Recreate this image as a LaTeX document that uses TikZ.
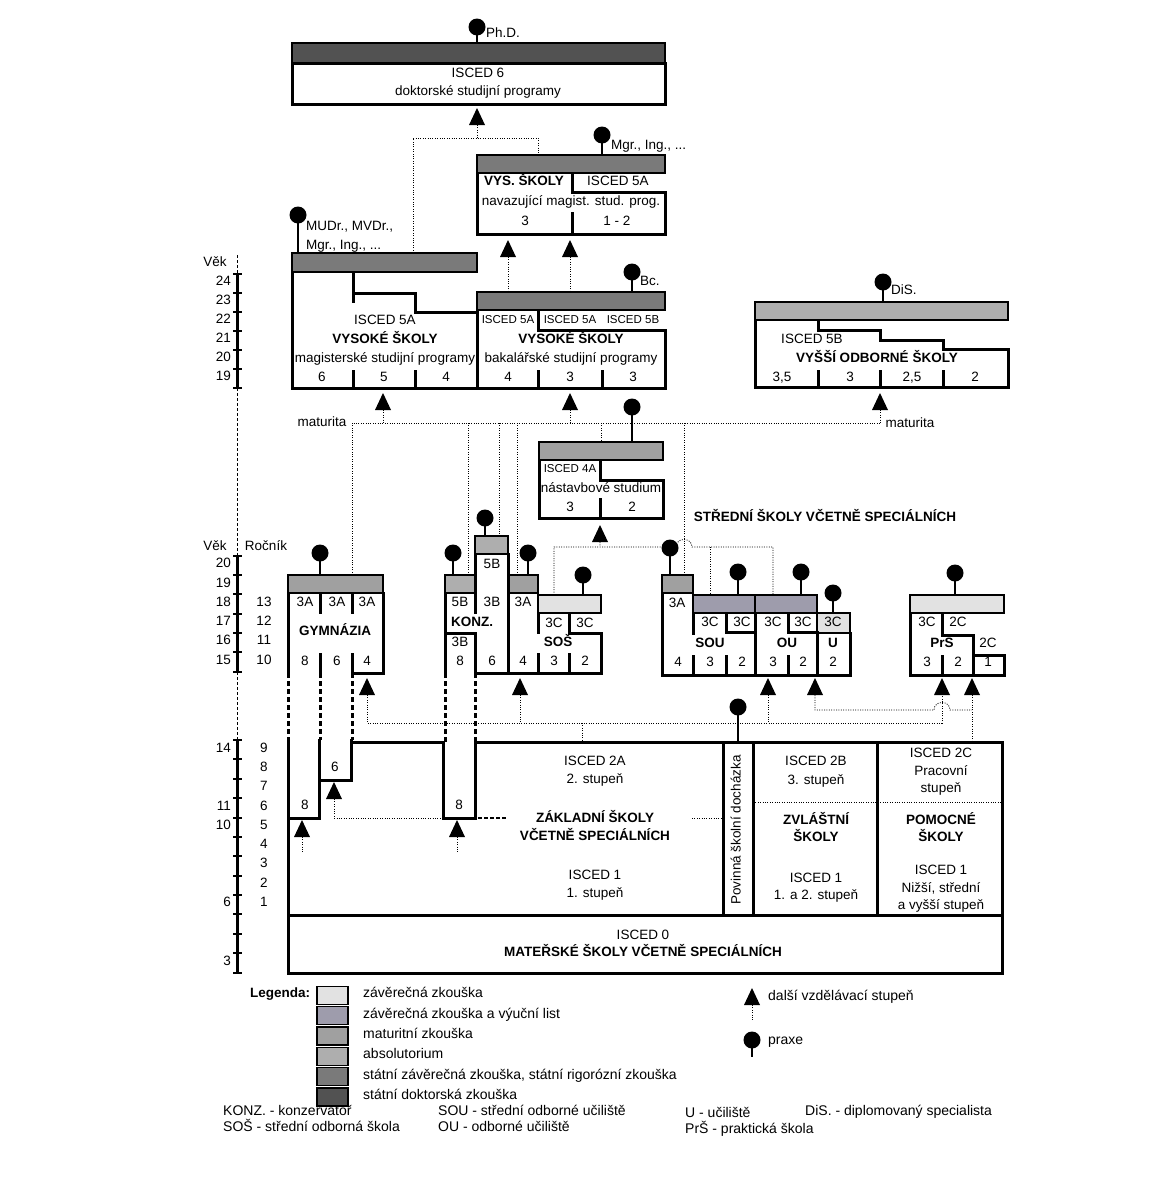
\documentclass[tikz,border=0pt]{standalone}
\usepackage{fontspec}
\setmainfont{Liberation Sans}
\definecolor{zaver}{RGB}{226,226,226}
\definecolor{vyucni}{RGB}{158,156,172}
\definecolor{matur}{RGB}{160,160,160}
\definecolor{absol}{RGB}{174,174,174}
\definecolor{statni}{RGB}{122,122,122}
\definecolor{doktor}{RGB}{82,82,82}
\tikzset{
  box/.style={line width=3pt, line cap=rect},
  bar/.style={draw, line width=2.6pt},
  flow/.style={line width=0.8pt, dash pattern=on 1pt off 1.4pt},
  cont/.style={line width=3pt, dash pattern=on 5pt off 3pt},
  lbl/.style={inner sep=0pt, text height=0.75em, text depth=0.22em, font=\fontsize{13.5}{15}\selectfont},
  sm/.style={lbl, font=\fontsize{11.5}{13}\selectfont},
  hd/.style={lbl, font=\fontsize{13.5}{15}\selectfont\bfseries},
  leg/.style={lbl, anchor=west, font=\fontsize{14}{16}\selectfont},
}
\newcommand\pin[3]{\fill (#1,#2) circle (8.5); \draw[line width=1.3pt] (#1,#2) -- (#1,#3);}
\newcommand\up[2]{\fill (#1,#2) -- ++(-8,17) -- ++(16,0) -- cycle;}
\begin{document}
\begin{tikzpicture}[x=1pt,y=-1pt]
  \useasboundingbox (0,0) rectangle (1174,1197);
  \fill[white] (0,0) rectangle (1174,1197);

  % ISCED 6
  \draw[bar, fill=doktor] (292,43) rectangle (665,63);
  \draw[box] (292,63) rectangle (665,104);
  \node[lbl] (phdisced) at (478,75) {ISCED 6};
  \node[lbl] (phdprog) at (478,93) {doktorské studijní programy};
  \pin{477}{27}{43}
  \node[lbl, anchor=west] (phd) at (486,35) {Ph.D.};
  \up{477}{108}
  \draw[flow] (477,125) -- (477,138) (413,253) -- (413,138) -- (538,138) -- (538,155);

  % navazujici magisterske
  \draw[bar, fill=statni] (477,155) rectangle (665,173);
  \draw[box] (477,173) -- (477,234) -- (665,234) -- (665,192) -- (572,192) -- (572,173);
  \draw[box] (572,213) -- (572,234);
  \node[hd] (navvs) at (524,183) {VYS. ŠKOLY};
  \node[lbl] (navisced) at (618,183) {ISCED 5A};
  \node[lbl] (navprog) at (571,203) {navazující magist. stud. prog.};
  \node[lbl] (nav3) at (525,223) {3};
  \node[lbl] (nav12) at (617,223) {1 - 2};
  \pin{602}{135}{155}
  \node[lbl, anchor=west] (mgr) at (611,147) {Mgr., Ing., ...};
  \up{508}{240} \up{570}{240}
  \draw[flow] (508,257) -- (508,292) (570,257) -- (570,292);

  % magisterske
  \draw[bar, fill=statni] (292,253) rectangle (477,272);
  \draw[box] (292,272) -- (292,388) -- (665,388);
  \draw[box] (353,272) -- (353,293) -- (415,293) -- (415,312) -- (477,312);
  \draw[box] (353,293) -- (353,301);
  \draw[box] (353,371) -- (353,388) (415,371) -- (415,388);
  \node[lbl] (magisced) at (385,322) {ISCED 5A};
  \node[hd] (magvs) at (385,341) {VYSOKÉ ŠKOLY};
  \node[lbl] (magprog) at (385,360) {magisterské studijní programy};
  \foreach \x/\n in {322/6,384/5,446/4} \node[lbl] at (\x,379) {\n};
  \pin{298}{215}{253}
  \node[lbl, anchor=west] (mudr) at (306,228) {MUDr., MVDr.,};
  \node[lbl, anchor=west] (mudr2) at (306,247) {Mgr., Ing., ...};

  % bakalarske
  \draw[bar, fill=statni] (477,292) rectangle (665,310);
  \draw[box] (477,310) -- (477,388) (538,310) -- (538,330) -- (665,330) -- (665,388);
  \draw[box] (538,371) -- (538,388) (602,371) -- (602,388);
  \foreach \x/\n in {508/5A,570/5A,633/5B} \node[sm] at (\x,321) {ISCED \n};
  \node[hd] (bcvs) at (571,341) {VYSOKÉ ŠKOLY};
  \node[lbl] (bcprog) at (571,360) {bakalářské studijní programy};
  \foreach \x/\n in {508/4,570/3,633/3} \node[lbl] at (\x,379) {\n};
  \pin{632}{272}{292}
  \node[lbl, anchor=west] (bc) at (640,283) {Bc.};

  % VOS
  \draw[bar, fill=absol] (755,302) rectangle (1008,320);
  \draw[box] (755,320) -- (755,387) -- (1008,387) -- (1008,349) -- (943,349) -- (943,340)
    -- (880,340) -- (880,330) -- (818,330) -- (818,320);
  \draw[box] (818,371) -- (818,387) (880,371) -- (880,387) (943,371) -- (943,387);
  \node[lbl] (vosisced) at (812,341) {ISCED 5B};
  \node[hd] (vos) at (877,360) {VYŠŠÍ ODBORNÉ ŠKOLY};
  \foreach \x/\n in {782/{3,5},850/3,912/{2,5},975/2} \node[lbl] at (\x,379) {\n};
  \pin{883}{282}{302}
  \node[lbl, anchor=west] (dis) at (891,292) {DiS.};

  % maturita
  \up{383}{393} \up{570}{393} \up{880}{393}
  \draw[flow] (383,410) -- (383,423) (570,410) -- (570,423) (880,410) -- (880,423);
  \draw[flow] (352,575) -- (352,423) -- (880,423);
  \draw[flow] (468,423) -- (468,575) (499,423) -- (499,536) (517,423) -- (517,575)
    (601,423) -- (601,442) (684,423) -- (684,575);
  \node[lbl] (mat1) at (322,424) {maturita};
  \node[lbl] (mat2) at (910,425) {maturita};

  % nastavba
  \draw[bar, fill=matur] (539,442) rectangle (663,460);
  \draw[box] (539,460) -- (539,518) -- (663,518) -- (663,480) -- (600,480) -- (600,460);
  \draw[box] (600,499) -- (600,518);
  \node[sm] (nasisced) at (570,470) {ISCED 4A};
  \node[lbl] (nas) at (601,490) {nástavbové studium};
  \node[lbl] at (570,509) {3};
  \node[lbl] at (632,509) {2};
  \pin{632}{407}{442}
  \up{600}{525}
  \draw[flow] (600,542) -- (600,547) (554,595) -- (554,547) -- (676,547)
    .. controls (676,537) and (692,537) .. (692,547) -- (773,547) -- (773,595);
  \draw[flow] (710,547) -- (710,595);
  \node[hd] (ss) at (825,519) {STŘEDNÍ ŠKOLY VČETNĚ SPECIÁLNÍCH};

  % gymnazia
  \draw[bar, fill=matur] (288,575) rectangle (383,593);
  \draw[box] (288,593) -- (288,673) (383,593) -- (383,673) -- (352,673) -- (352,654);
  \draw[box] (320,593) -- (320,612) (352,593) -- (352,612) (320,654) -- (320,673);
  \draw[cont] (288,673) -- (288,740) (320,673) -- (320,740) (352,673) -- (352,740);
  \foreach \x in {305,337,367} \node[lbl] at (\x,604) {3A};
  \node[hd] (gym) at (335,633) {GYMNÁZIA};
  \foreach \x/\n in {305/8,337/6,367/4} \node[lbl] at (\x,663) {\n};
  \pin{320}{553}{575}

  % konzervator a SOS
  \draw[bar, fill=absol] (475,536) rectangle (508,554);
  \draw[bar, fill=absol] (445,575) rectangle (475,593);
  \draw[bar, fill=matur] (508,575) rectangle (538,593);
  \draw[bar, fill=zaver] (538,595) rectangle (601,613);
  \draw[box] (445,593) -- (445,673) (475,554) -- (475,593) (475,593) -- (475,612)
    (445,633) -- (475,633) -- (475,673) (508,554) -- (508,673) (475,673) -- (601,673);
  \draw[box] (538,613) -- (538,632) (569,613) -- (569,633) -- (601,633) -- (601,673);
  \draw[box] (538,654) -- (538,673) (569,654) -- (569,673);
  \draw[cont] (445,673) -- (445,742) (475,673) -- (475,742);
  \node[lbl] at (492,566) {5B};
  \foreach \x/\n in {460/5B,492/3B,523/3A} \node[lbl] at (\x,604) {\n};
  \node[hd] (konz) at (472,624) {KONZ.};
  \node[lbl] at (460,644) {3B};
  \foreach \x in {554,585} \node[lbl] at (\x,625) {3C};
  \node[hd] (sos) at (558,644) {SOŠ};
  \foreach \x/\n in {460/8,492/6,523/4,554/3,585/2} \node[lbl] at (\x,663) {\n};
  \pin{453}{553}{575} \pin{485}{518}{536} \pin{528}{553}{575} \pin{583}{575}{595}

  % SOU, OU, U
  \draw[bar, fill=matur] (662,575) rectangle (693,593);
  \draw[bar, fill=vyucni] (693,595) rectangle (755,613);
  \draw[bar, fill=vyucni] (755,595) rectangle (817,613);
  \draw[bar, fill=zaver] (817,613) rectangle (850,633);
  \draw[box] (662,593) -- (662,675) -- (850,675) -- (850,633);
  \draw[box] (693,613) -- (693,633) (726,613) -- (726,632) -- (755,632)
    (755,613) -- (755,675) (788,613) -- (788,632) -- (817,632) (817,633) -- (817,675);
  \draw[box] (693,656) -- (693,675) (726,656) -- (726,675) (788,656) -- (788,675);
  \node[lbl] at (677,605) {3A};
  \foreach \x in {710,742,773,803,833} \node[lbl] at (\x,624) {3C};
  \node[hd] (sou) at (710,645) {SOU};
  \node[hd] (ou) at (787,645) {OU};
  \node[hd] (u) at (833,645) {U};
  \foreach \x/\n in {678/4,710/3,742/2,773/3,803/2,833/2} \node[lbl] at (\x,664) {\n};
  \pin{670}{548}{575} \pin{738}{572}{595} \pin{801}{572}{595} \pin{833}{593}{613}

  % PrS
  \draw[bar, fill=zaver] (910,595) rectangle (1004,613);
  \draw[box] (910,613) -- (910,675) -- (1004,675) -- (1004,655) -- (973,655) -- (973,635)
    -- (942,635) -- (942,613);
  \draw[box] (942,656) -- (942,675) (973,656) -- (973,675);
  \node[lbl] at (927,624) {3C};
  \node[lbl] at (958,624) {2C};
  \node[hd] (prs) at (942,645) {PrŠ};
  \node[lbl] at (988,645) {2C};
  \foreach \x/\n in {927/3,958/2,988/1} \node[lbl] at (\x,664) {\n};
  \pin{955}{573}{595}

  % vstupy ze zakladni skoly
  \foreach \x in {367,520,768,815,942,972} { \up{\x}{678} }
  \draw[flow] (367,695) -- (367,723) -- (942,723) -- (942,695);
  \draw[flow] (520,695) -- (520,723) (768,695) -- (768,723) (582,723) -- (582,742);
  \draw[flow] (815,695) -- (815,710) -- (934,710) .. controls (934,700) and (950,700) .. (950,710)
    -- (972,710);
  \draw[flow] (972,695) -- (972,742);

  % zakladni skoly
  \draw[box] (288,740) -- (288,973) -- (1002,973) -- (1002,742) -- (475,742) -- (475,818)
    -- (443,818) -- (443,742) -- (351,742);
  \draw[box] (319,740) -- (319,818) -- (288,818) (351,740) -- (351,780) -- (319,780);
  \draw[box] (288,915) -- (1002,915) (723,742) -- (723,915) (753,742) -- (753,915)
    (877,742) -- (877,915);
  \draw[flow] (753,802) -- (1002,802);
  \node[lbl] at (305,807) {8};
  \node[lbl] at (335,769) {6};
  \node[lbl] at (459,807) {8};
  \up{302}{820} \up{334}{782} \up{457}{820}
  \draw[flow] (302,837) -- (302,853) (457,837) -- (457,853) (334,799) -- (334,818) -- (443,818);
  \draw[flow] (692,818) -- (722,818);
  \draw[line width=1.3pt, dash pattern=on 4pt off 2pt] (478,818) -- (507,818);
  \node[lbl] (zs2a) at (595,763) {ISCED 2A};
  \node[lbl] at (595,781) {2. stupeň};
  \node[hd] (zs) at (595,820) {ZÁKLADNÍ ŠKOLY};
  \node[hd] (zs2) at (595,838) {VČETNĚ SPECIÁLNÍCH};
  \node[lbl] (zs1) at (595,877) {ISCED 1};
  \node[lbl] at (595,895) {1. stupeň};
  \node[lbl, rotate=90] (pov) at (738,830) {Povinná školní docházka};
  \pin{738}{707}{742}
  \node[lbl] (zv2b) at (816,763) {ISCED 2B};
  \node[lbl] at (816,782) {3. stupeň};
  \node[hd] (zv) at (816,822) {ZVLÁŠTNÍ};
  \node[hd] at (816,839) {ŠKOLY};
  \node[lbl] (zv1) at (816,880) {ISCED 1};
  \node[lbl] at (816,897) {1. a 2. stupeň};
  \node[lbl] (po2c) at (941,755) {ISCED 2C};
  \node[lbl] at (941,773) {Pracovní};
  \node[lbl] at (941,790) {stupeň};
  \node[hd] (po) at (941,822) {POMOCNÉ};
  \node[hd] at (941,839) {ŠKOLY};
  \node[lbl] (po1) at (941,872) {ISCED 1};
  \node[lbl] at (941,890) {Nižší, střední};
  \node[lbl] at (941,907) {a vyšší stupeň};
  \node[lbl] (ms0) at (643,937) {ISCED 0};
  \node[hd] (ms) at (643,954) {MATEŘSKÉ ŠKOLY VČETNĚ SPECIÁLNÍCH};

  % vekova osa
  \draw[line width=1pt, dash pattern=on 3pt off 2pt] (237,255) -- (237,274) (237,388) -- (237,556)
    (237,672) -- (237,740);
  \draw[line width=3pt] (237,274) -- (237,388) (237,556) -- (237,672) (237,740) -- (237,973);
  \foreach \y in {274,293,...,388} \draw[line width=1.6pt] (233,\y) -- (242,\y);
  \foreach \y in {556,575,594,614,633,652,672,740,759,779,798,818,837,856,876,895,914,934,953,973}
    \draw[line width=1.6pt] (233,\y) -- (242,\y);
  \node[lbl] (vek1) at (215,264) {Věk};
  \foreach \a/\y in {24/283,23/302,22/321,21/340,20/359,19/378}
    \node[lbl, anchor=east] at (231,\y) {\a};
  \node[lbl] (vek2) at (215,548) {Věk};
  \node[lbl] (rocnik) at (266,548) {Ročník};
  \foreach \a/\y in {20/565,19/585,18/604,17/623,16/642,15/662,14/750,11/808,10/827,6/904,3/963}
    \node[lbl, anchor=east] at (231,\y) {\a};
  \foreach \r/\y in {13/604,12/623,11/642,10/662,9/750,8/769,7/788,6/808,5/827,4/846,3/865,2/885,1/904}
    \node[lbl] at (264,\y) {\r};

  % legenda
  \node[hd, anchor=west] (leg) at (250,995) {Legenda:};
  \foreach \c/\t [count=\i] in {zaver/závěrečná zkouška,vyucni/závěrečná zkouška a výuční list,
      matur/maturitní zkouška,absol/absolutorium,
      statni/{státní závěrečná zkouška, státní rigorózní zkouška},doktor/státní doktorská zkouška} {
    \draw[line width=1.4pt, fill=\c] (317,966+20.3*\i) rectangle (348,984+20.3*\i);
    \node[leg] at (363,975+20.3*\i) {\t};
  }
  \up{752}{988}
  \draw[flow] (752,1005) -- (752,1020);
  \node[leg] (legup) at (768,998) {další vzdělávací stupeň};
  \pin{752}{1040}{1057}
  \node[leg] (legpin) at (768,1042) {praxe};
  \node[leg] at (223,1113) {KONZ. - konzervatoř};
  \node[leg] at (223,1129) {SOŠ - střední odborná škola};
  \node[leg] at (438,1113) {SOU - střední odborné učiliště};
  \node[leg] at (438,1129) {OU - odborné učiliště};
  \node[leg] at (685,1115) {U - učiliště};
  \node[leg] at (685,1131) {PrŠ - praktická škola};
  \node[leg] at (805,1113) {DiS. - diplomovaný specialista};
\end{tikzpicture}
\end{document}
